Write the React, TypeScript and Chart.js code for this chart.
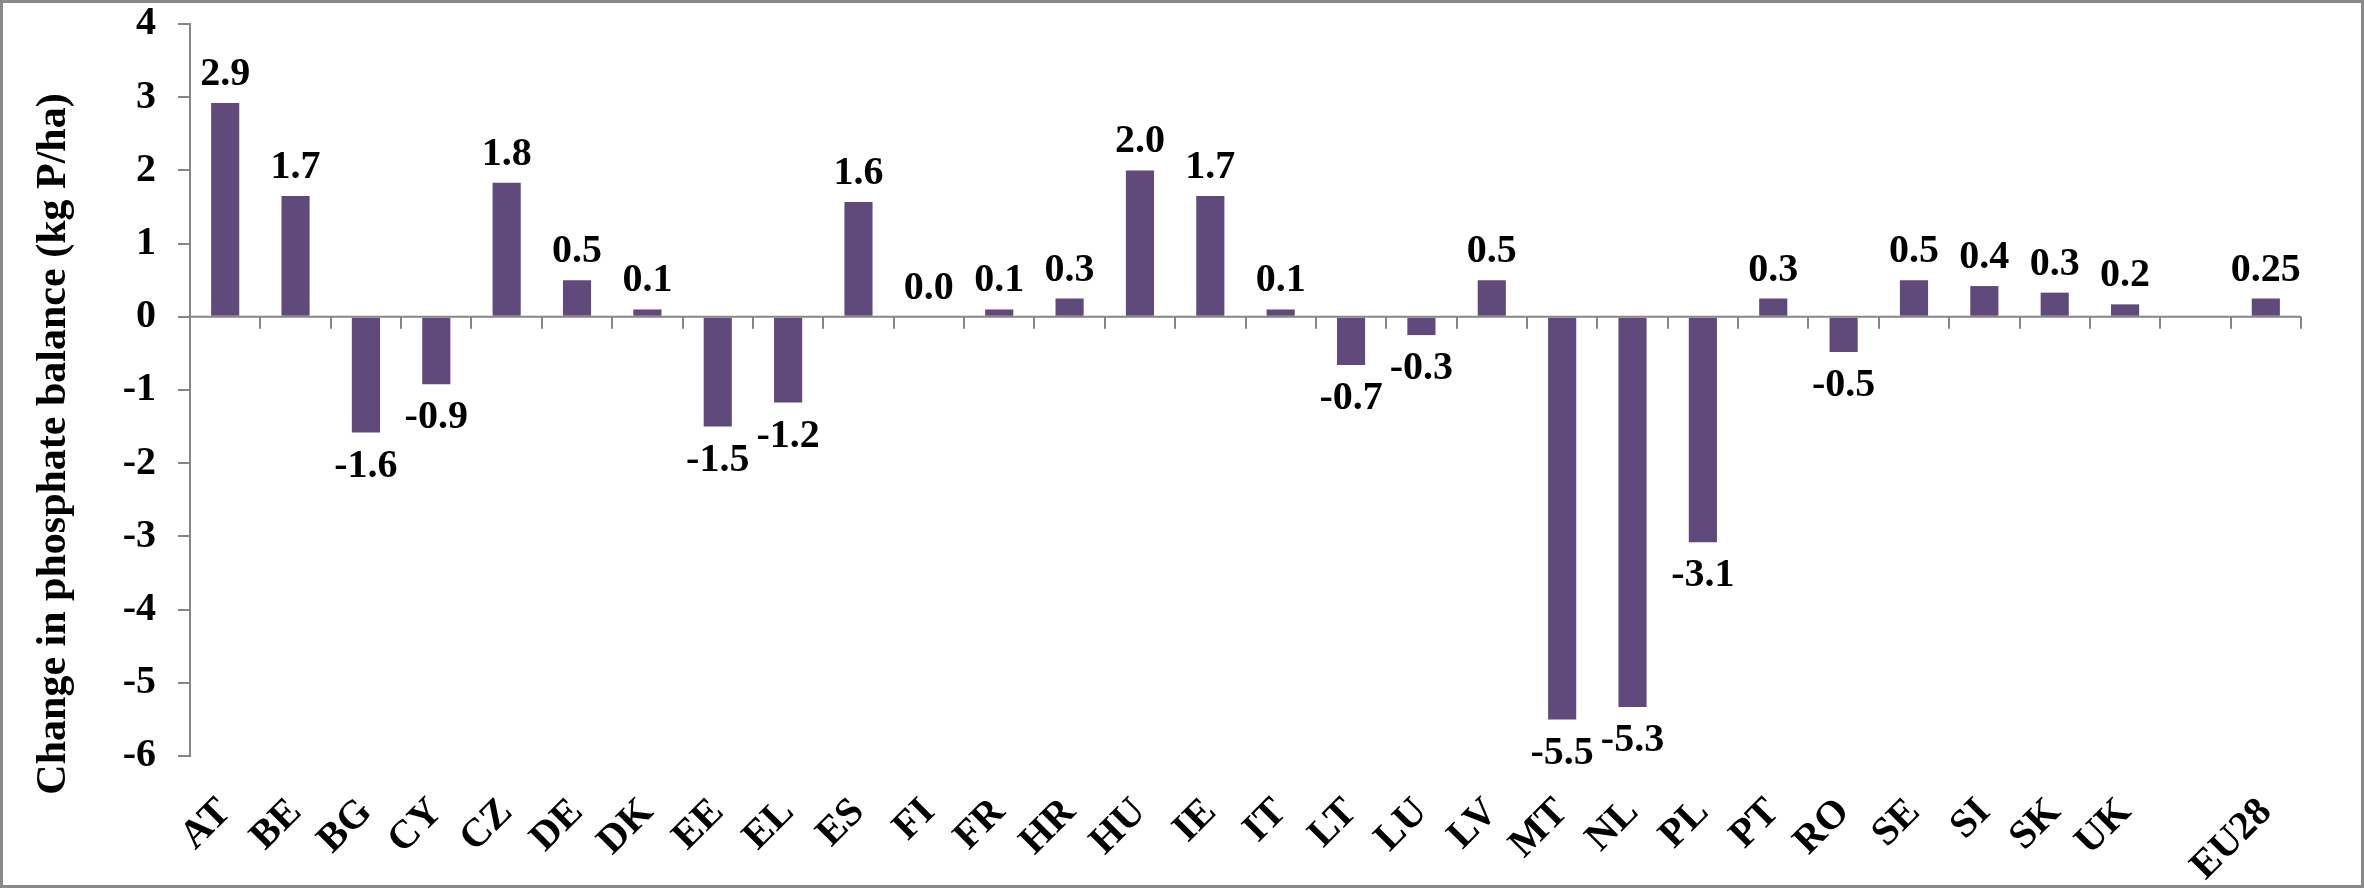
import React, { useEffect, useRef } from "react";
import { Chart, registerables } from "chart.js";

Chart.register(...registerables);

const categories = [
  "AT", "BE", "BG", "CY", "CZ", "DE", "DK", "EE", "EL", "ES",
  "FI", "FR", "HR", "HU", "IE", "IT", "LT", "LU", "LV", "MT",
  "NL", "PL", "PT", "RO", "SE", "SI", "SK", "UK", "", "EU28",
];

const values: (number | null)[] = [
  2.92, 1.65, -1.58, -0.92, 1.83, 0.5, 0.1, -1.5, -1.17, 1.57,
  0.0, 0.1, 0.25, 2.0, 1.65, 0.1, -0.66, -0.25, 0.5, -5.5,
  -5.33, -3.08, 0.25, -0.48, 0.5, 0.42, 0.33, 0.17, null, 0.25,
];

const valueLabels = [
  "2.9", "1.7", "-1.6", "-0.9", "1.8", "0.5", "0.1", "-1.5", "-1.2", "1.6",
  "0.0", "0.1", "0.3", "2.0", "1.7", "0.1", "-0.7", "-0.3", "0.5", "-5.5",
  "-5.3", "-3.1", "0.3", "-0.5", "0.5", "0.4", "0.3", "0.2", "", "0.25",
];

const yMin = -6;
const yMax = 4;
const yTitle = "Change in phosphate balance (kg P/ha)";

const FONT = "'Liberation Serif', 'Times New Roman', serif";
const AXIS_GRAY = "#868686";
const BAR_COLOR = "#604A7B";

const extrasPlugin = {
  id: "extras",
  afterDatasetsDraw(chart: any) {
    const { ctx, chartArea } = chart;
    const x = chart.scales.x;
    const y = chart.scales.y;
    const zeroY = y.getPixelForValue(0);
    ctx.save();
    // zero axis line
    ctx.strokeStyle = AXIS_GRAY;
    ctx.lineWidth = 2;
    ctx.beginPath();
    ctx.moveTo(chartArea.left, zeroY);
    ctx.lineTo(chartArea.right, zeroY);
    ctx.stroke();
    // category boundary tick marks
    const n = categories.length;
    for (let i = 0; i <= n; i++) {
      let bx: number;
      if (i === 0) bx = chartArea.left;
      else if (i === n) bx = chartArea.right;
      else bx = (x.getPixelForValue(i - 1) + x.getPixelForValue(i)) / 2;
      bx = Math.round(bx);
      ctx.beginPath();
      ctx.moveTo(bx, zeroY);
      ctx.lineTo(bx, zeroY + 12);
      ctx.stroke();
    }
    // data labels
    const meta = chart.getDatasetMeta(0);
    const fs = 40;
    ctx.font = `bold ${fs}px ${FONT}`;
    ctx.fillStyle = "#000";
    ctx.textAlign = "center";
    ctx.textBaseline = "alphabetic";
    meta.data.forEach((bar: any, i: number) => {
      const v = values[i];
      if (v === null || v === undefined) return;
      const label = valueLabels[i];
      if (!label) return;
      if (v >= 0) {
        ctx.fillText(label, bar.x, bar.y - 18);
      } else {
        ctx.fillText(label, bar.x, bar.y + 17 + fs * 0.68);
      }
    });
    ctx.restore();
  },
  afterDraw(chart: any) {
    const { ctx, width, height } = chart;
    ctx.save();
    // y axis title
    ctx.font = `bold 42px ${FONT}`;
    ctx.fillStyle = "#000";
    ctx.textAlign = "center";
    ctx.textBaseline = "middle";
    ctx.translate(54, 444);
    ctx.rotate(-Math.PI / 2);
    ctx.fillText(yTitle, 0, 0);
    ctx.restore();
    // outer frame
    ctx.save();
    ctx.strokeStyle = "#898989";
    ctx.lineWidth = 3;
    ctx.strokeRect(1.5, 1.5, width - 3, height - 3);
    ctx.restore();
  },
};

export default function App() {
  const canvasRef = useRef<HTMLCanvasElement | null>(null);

  useEffect(() => {
    if (!canvasRef.current) return;
    const chart = new Chart(canvasRef.current, {
      type: "bar",
      data: {
        labels: categories,
        datasets: [
          {
            data: values as any,
            backgroundColor: BAR_COLOR,
            borderWidth: 0,
            barPercentage: 0.4,
            categoryPercentage: 1.0,
          },
        ],
      },
      options: {
        animation: false,
        responsive: false,
        maintainAspectRatio: false,
        layout: { padding: { left: 0, top: 24, right: 63, bottom: 0 } },
        plugins: {
          legend: { display: false },
          tooltip: { enabled: false },
          title: { display: false },
        },
        scales: {
          x: {
            type: "category",
            offset: true,
            grid: { display: false },
            border: { display: false },
            ticks: {
              autoSkip: false,
              maxRotation: 45,
              minRotation: 45,
              padding: 25,
              color: "#000",
              font: { family: FONT, size: 40, weight: "bold" },
            },
            afterFit: (scale: any) => {
              scale.height = 132;
              scale.paddingLeft = 0;
              scale.paddingRight = 0;
            },
          },
          y: {
            min: yMin,
            max: yMax,
            ticks: {
              stepSize: 1,
              padding: 22,
              color: "#000",
              font: { family: FONT, size: 40, weight: "bold" },
            },
            grid: {
              display: true,
              drawOnChartArea: false,
              drawTicks: true,
              tickLength: 12,
              color: AXIS_GRAY,
              lineWidth: 2,
            },
            border: { display: true, color: AXIS_GRAY, width: 2 },
            afterFit: (scale: any) => {
              scale.width = 190;
              scale.paddingTop = 0;
              scale.paddingBottom = 0;
            },
          },
        },
      },
      plugins: [extrasPlugin],
    });
    return () => chart.destroy();
  }, []);

  return (
    <div style={{ position: "absolute", left: 0, top: 0, width: 2364, height: 888, background: "#fff" }}>
      <canvas ref={canvasRef} width={2364} height={888} style={{ display: "block", width: 2364, height: 888 }} />
    </div>
  );
}
